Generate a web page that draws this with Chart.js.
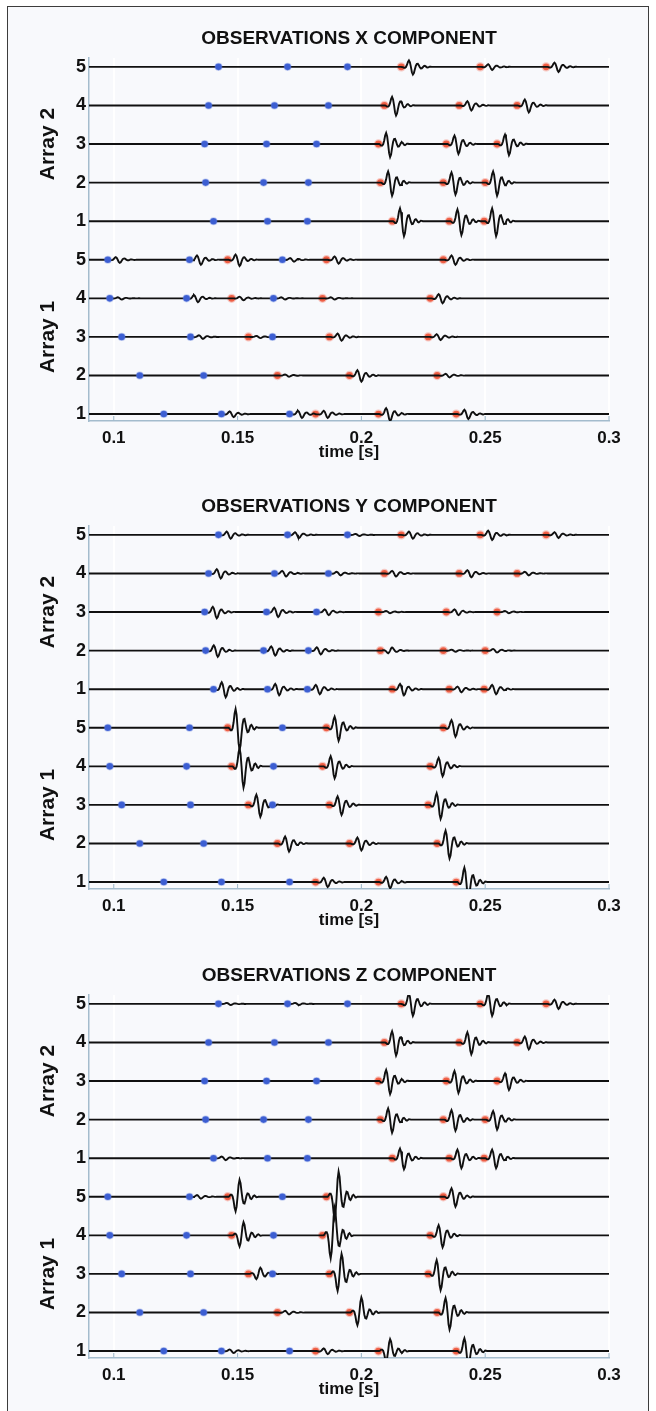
<!DOCTYPE html>
<html><head><meta charset="utf-8">
<script src="https://cdn.jsdelivr.net/npm/chart.js@4.4.1/dist/chart.umd.min.js"></script>
<style>
html,body{margin:0;padding:0;background:#fff;overflow:hidden;}
#frame{position:absolute;left:7px;top:6px;width:640px;height:1430px;border:1.5px solid #3c3c3c;background:#f8f9fc;}
canvas{position:absolute;left:0;}
</style></head><body>
<div id="frame"></div>
<canvas id="c0" width="656" height="468" style="top:0px"></canvas>
<canvas id="c1" width="656" height="468" style="top:468px"></canvas>
<canvas id="c2" width="656" height="468" style="top:937px"></canvas>
<script>
// ---------- DATA ----------
const titles = ['OBSERVATIONS X COMPONENT', 'OBSERVATIONS Y COMPONENT', 'OBSERVATIONS Z COMPONENT'];
const xTicks = [0.1, 0.15, 0.2, 0.25, 0.3];
const traceLabels = ['1', '2', '3', '4', '5', '1', '2', '3', '4', '5'];
const arrayNames = ['Array 1', 'Array 2'];
const xLabel = 'time [s]';

// pick times [s]; index 0 = Array 1 trace 1 (bottom) ... index 9 = Array 2 trace 5 (top)
const bluePicks = [
  [0.1202, 0.1435, 0.1710],
  [0.1105, 0.1363],
  [0.1032, 0.1310, 0.1641],
  [0.0984, 0.1294, 0.1645],
  [0.0976, 0.1306, 0.1681],
  [0.1403, 0.1621, 0.1782],
  [0.1371, 0.1605, 0.1786],
  [0.1367, 0.1617, 0.1819],
  [0.1383, 0.1649, 0.1867],
  [0.1423, 0.1702, 0.1944]
];
const redPicks = [
  [0.1815, 0.2069, 0.2383],
  [0.1661, 0.1952, 0.2306],
  [0.1544, 0.1871, 0.2270],
  [0.1476, 0.1843, 0.2278],
  [0.1460, 0.1859, 0.2331],
  [0.2125, 0.2355, 0.2496],
  [0.2077, 0.2331, 0.2500],
  [0.2069, 0.2343, 0.2548],
  [0.2093, 0.2395, 0.2629],
  [0.2161, 0.2480, 0.2746]
];

// wavelet amplitude (in trace spacings) arriving at each pick
const blueAmpX = [[0, 0.08, 0.1], [0, 0], [0, 0.05, 0], [0.03, 0.1, 0.03], [0.08, 0.13, 0.05],
  [0, 0, 0], [0, 0, 0], [0, 0, 0], [0, 0, 0], [0, 0, 0]];
const redAmpX = [[0.1, 0.18, 0.13], [0.03, 0.16, 0.05], [0.03, 0.1, 0.08], [0.05, 0.03, 0.13], [0.16, 0.1, 0.13],
  [0.39, 0.36, 0.39], [0.34, 0.31, 0.34], [0.34, 0.26, 0.29], [0.26, 0.13, 0.18], [0.2, 0.08, 0.13]];

const blueAmpY = [[0, 0, 0], [0, 0], [0, 0, 0], [0, 0, 0], [0, 0, 0],
  [0.21, 0.16, 0.13], [0.16, 0.13, 0.1], [0.16, 0.13, 0.08], [0.13, 0.08, 0.05], [0.1, 0.08, 0.03]];
const redAmpY = [[0.13, 0.16, 0.44], [0.21, 0.18, 0.39], [0.31, 0.26, 0.36], [0.55, 0.31, 0.26], [0.57, 0.34, 0.23],
  [0.16, 0.08, 0.13], [-0.08, 0.03, 0.05], [0.03, 0.08, 0.03], [0.08, 0.1, 0.05], [0.1, 0.13, 0.08]];

const blueAmpZ = [[0, 0.05, 0], [0, 0], [0, 0, 0], [0, 0, 0], [0, 0.05, 0],
  [0.05, 0, 0], [0, 0, 0], [0, 0, 0], [0, 0, 0], [0.03, 0.03, 0]];
const redAmpZ = [[0.08, -0.31, 0.39], [0.05, -0.39, 0.44], [-0.16, -0.52, 0.42], [-0.34, -0.7, 0.31], [-0.44, -0.65, 0.26],
  [0.29, 0.26, 0.26], [0.34, 0.29, 0.26], [0.34, 0.31, 0.23], [0.34, 0.31, 0.18], [0.31, 0.31, 0.13]];

// wavelet shape, one sample per 0.4 ms
const waveletStep = 0.0004;
const wavelet = [0, 0, -0.05, -0.12, -0.12, -0.02, 0.25, 0.65, 0.85, 0.6, 0, -0.7, -1, -0.8, -0.3, 0.15, 0.38, 0.4,
  0.2, -0.05, -0.2, -0.18, -0.05, 0.1, 0.13, 0.06, -0.05, -0.08, -0.03, 0.03, 0.02, 0];

const tStart = 0.09, tEnd = 0.3;

// ---------- BUILD ----------
const FONT = "'Liberation Sans', Arial, Helvetica, sans-serif";
const axisColor = '#a4bccd';
const nSamples = Math.round((tEnd - tStart) / waveletStep) + 1;

function addEvents(vals, picks, amps) {
  picks.forEach((t0, e) => {
    const a = amps[e] || 0;
    if (!a) return;
    const s = Math.round((t0 - tStart) / waveletStep);
    wavelet.forEach((w, k) => { if (s + k < vals.length) vals[s + k] += a * w; });
  });
}

const panelPlugin = {
  id: 'panelDecor',
  afterDraw(chart) {
    const ctx = chart.ctx, ca = chart.chartArea, ys = chart.scales.y, xs = chart.scales.x;
    ctx.save();
    // inward x ticks
    ctx.strokeStyle = axisColor; ctx.lineWidth = 1.2;
    xTicks.forEach(v => {
      const px = xs.getPixelForValue(v);
      ctx.beginPath(); ctx.moveTo(px, ca.bottom); ctx.lineTo(px, ca.bottom - 5); ctx.stroke();
    });
    // title
    ctx.fillStyle = '#111';
    ctx.font = 'bold 19px ' + FONT;
    ctx.textAlign = 'center'; ctx.textBaseline = 'middle';
    ctx.fillText(chart.options.plugins.panelDecor.title, (ca.left + ca.right) / 2, 39);
    // array names
    ctx.font = 'bold 21px ' + FONT;
    [[3, arrayNames[0]], [8, arrayNames[1]]].forEach(([v, txt]) => {
      ctx.save();
      ctx.translate(48, ys.getPixelForValue(v));
      ctx.rotate(-Math.PI / 2);
      ctx.fillText(txt, 0, 0);
      ctx.restore();
    });
    ctx.restore();
  }
};

function makePanel(id, title, blueAmp, redAmp) {
  const datasets = [];
  for (let j = 0; j < 10; j++) {
    const vals = new Array(nSamples).fill(0);
    addEvents(vals, bluePicks[j], blueAmp[j]);
    addEvents(vals, redPicks[j], redAmp[j]);
    datasets.push({
      data: vals.map((v, i) => ({ x: tStart + i * waveletStep, y: j + 1 + v })),
      borderColor: '#101010', borderWidth: 1.9, pointRadius: 0, tension: 0, order: 1
    });
  }
  const redPts = [], bluePts = [];
  redPicks.forEach((p, j) => p.forEach(t => redPts.push({ x: t, y: j + 1 })));
  bluePicks.forEach((p, j) => p.forEach(t => bluePts.push({ x: t, y: j + 1 })));
  datasets.push({ data: redPts, showLine: false, pointRadius: 3.4, pointBackgroundColor: '#ee5a3e',
    pointBorderColor: 'rgba(240,110,90,0.35)', pointBorderWidth: 2.5, order: 2 });
  datasets.push({ data: bluePts, showLine: false, pointRadius: 3.3, pointBackgroundColor: '#3c5ed2',
    pointBorderColor: 'rgba(90,120,220,0.35)', pointBorderWidth: 1.5, order: 0 });

  new Chart(document.getElementById(id), {
    type: 'line',
    data: { datasets },
    plugins: [panelPlugin],
    options: {
      responsive: false, animation: false, parsing: false, normalized: true,
      layout: { padding: { left: 0, right: 47, top: 58, bottom: 5 } },
      plugins: { legend: { display: false }, tooltip: { enabled: false }, panelDecor: { title } },
      scales: {
        x: {
          type: 'linear', min: tStart, max: tEnd,
          afterBuildTicks: s => { s.ticks = xTicks.map(v => ({ value: v })); },
          afterFit: s => { s.height = 42; },
          grid: { color: 'rgba(255,255,255,0.95)', lineWidth: 2, drawTicks: false },
          border: { color: axisColor, width: 1.5 },
          ticks: { font: { family: FONT, size: 17, weight: 'bold' }, color: '#111', padding: 7, maxRotation: 0,
            callback: v => String(v) },
          title: { display: true, text: xLabel, font: { family: FONT, size: 17, weight: 'bold' }, color: '#111',
            padding: 0 }
        },
        y: {
          type: 'linear', min: 0.82, max: 10.23,
          afterBuildTicks: s => { s.ticks = traceLabels.map((l, i) => ({ value: i + 1 })); },
          afterFit: s => { s.width = 89; },
          grid: { drawOnChartArea: false, drawTicks: false },
          border: { color: axisColor, width: 1.5 },
          ticks: { font: { family: FONT, size: 18, weight: 'bold' }, color: '#111', padding: 3,
            callback: (v, i) => traceLabels[i] }
        }
      }
    }
  });
}

makePanel('c0', titles[0], blueAmpX, redAmpX);
makePanel('c1', titles[1], blueAmpY, redAmpY);
makePanel('c2', titles[2], blueAmpZ, redAmpZ);
</script>
</body></html>
